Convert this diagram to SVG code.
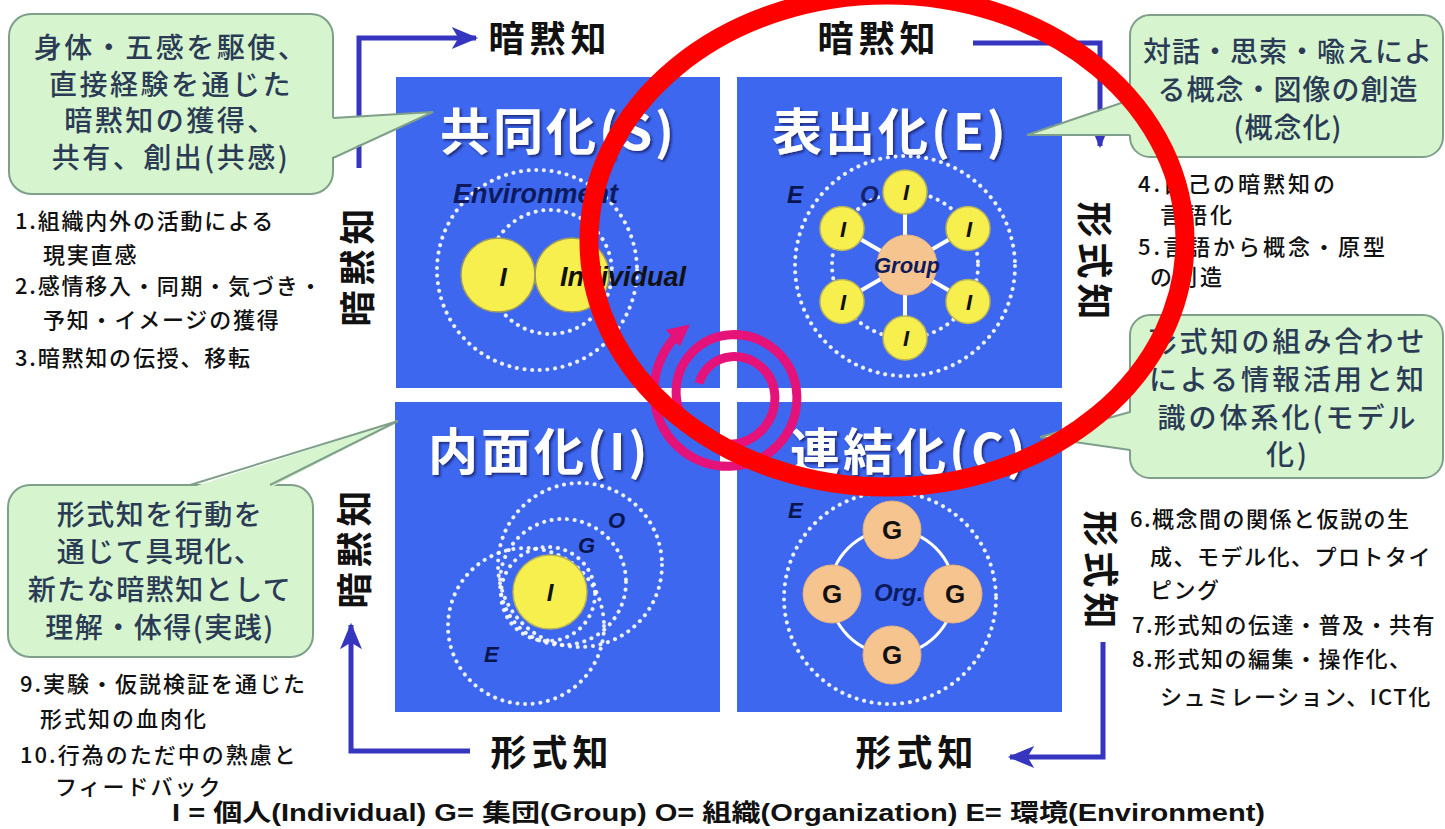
<svg xmlns="http://www.w3.org/2000/svg" width="1445" height="829" viewBox="0 0 1445 829">
<style>
.q{fill:#3c67ee}
.ttl{font-family:"Noto Sans CJK JP","Liberation Sans",sans-serif;font-weight:bold;font-size:50px;fill:#ffffff;letter-spacing:3px}
.dot{fill:none;stroke:#ffffff;stroke-width:4;stroke-dasharray:0.1 7.6;stroke-linecap:round;opacity:0.9}
.it{font-family:"Liberation Sans",Arial,sans-serif;font-style:italic;font-weight:bold}
.yel{fill:#f6ef4e;stroke:#b9b35a;stroke-width:1.5}
.pch{fill:#f6c48f;stroke:#e8b07a;stroke-width:1}
.lbl{font-family:"Noto Sans CJK JP",sans-serif;font-weight:bold;font-size:36px;fill:#111111;letter-spacing:5px}
.co{fill:#d6f5cf;stroke:#7f9f8a;stroke-width:2}
.cof{fill:#d6f5cf}
.col{fill:none;stroke:#7f9f8a;stroke-width:2}
.cot{font-family:"Noto Sans CJK JP",sans-serif;font-weight:500;font-size:28px;fill:#2b3b55;text-anchor:middle}
.lst{font-family:"Noto Sans CJK JP",sans-serif;font-weight:500;font-size:22px;fill:#111111}
.arr{fill:none;stroke:#3535c0;stroke-width:5}
</style>
<defs>
<marker id="ah" viewBox="0 0 12 10" markerWidth="30" markerHeight="22" refX="11" refY="5" orient="auto" markerUnits="userSpaceOnUse">
<path d="M0,0 L12,5 L0,10 L3,5 z" fill="#3535c0"/>
</marker>
<marker id="mh" viewBox="0 0 10 10" markerWidth="22" markerHeight="22" refX="6" refY="5" orient="auto" markerUnits="userSpaceOnUse">
<path d="M0,0 L10,5 L0,10 z" fill="#e5127a"/>
</marker>
<filter id="sh" x="-10%" y="-10%" width="120%" height="130%">
<feDropShadow dx="2" dy="2" stdDeviation="1" flood-color="#12206a" flood-opacity="0.8"/>
</filter>
</defs>
<rect width="1445" height="829" fill="#ffffff"/>

<g id="quad-S">
<rect class="q" x="396" y="77" width="324" height="311"/>
<text class="ttl" x="440" y="150" filter="url(#sh)">共同化(S)</text>
<circle class="dot" cx="537" cy="270" r="100"/>
<circle class="dot" cx="550" cy="272" r="62"/>
<circle cx="498" cy="275" r="37" fill="#f6ef4e"/>
<circle cx="572" cy="275" r="37" fill="#f6ef4e"/>
<circle cx="498" cy="275" r="37" fill="none" stroke="#9e9a60" stroke-width="1.5"/>
<circle cx="572" cy="275" r="37" fill="none" stroke="#9e9a60" stroke-width="1.5"/>
<text class="it" x="453" y="203" font-size="27" fill="#0d1b5e">Environment</text>
<text class="it" x="503" y="286" font-size="26" fill="#111" text-anchor="middle">I</text>
<text class="it" x="560" y="286" font-size="27" fill="#111">Individual</text>
</g>

<g id="quad-E">
<rect class="q" x="737" y="77" width="325" height="311"/>
<text class="ttl" x="772" y="150" filter="url(#sh)">表出化(E)</text>
<circle class="dot" cx="905" cy="266" r="110"/>
<circle class="dot" cx="905" cy="265" r="73"/>
<g stroke="#ffffff" stroke-width="4">
<line x1="905" y1="265" x2="905" y2="192"/>
<line x1="905" y1="265" x2="968" y2="228.5"/>
<line x1="905" y1="265" x2="968" y2="301.5"/>
<line x1="905" y1="265" x2="905" y2="338"/>
<line x1="905" y1="265" x2="842" y2="301.5"/>
<line x1="905" y1="265" x2="842" y2="228.5"/>
</g>
<circle class="pch" cx="907" cy="265" r="30"/>
<circle class="yel" cx="905" cy="192" r="22"/>
<circle class="yel" cx="968" cy="228.5" r="22"/>
<circle class="yel" cx="968" cy="301.5" r="22"/>
<circle class="yel" cx="905" cy="338" r="22"/>
<circle class="yel" cx="842" cy="301.5" r="22"/>
<circle class="yel" cx="842" cy="228.5" r="22"/>
<g class="it" font-size="22" fill="#111" text-anchor="middle">
<text x="906" y="200">I</text>
<text x="969" y="236.5">I</text>
<text x="969" y="309.5">I</text>
<text x="906" y="346">I</text>
<text x="843" y="309.5">I</text>
<text x="843" y="236.5">I</text>
</g>
<text class="it" x="907" y="273" font-size="22" fill="#0d1b5e" text-anchor="middle">Group</text>
<text class="it" x="787" y="203" font-size="24" fill="#0a1550">E</text>
<text class="it" x="860" y="203" font-size="24" fill="#14226a">O</text>
</g>

<g id="quad-I">
<rect class="q" x="395" y="402" width="325" height="310"/>
<text class="ttl" x="428" y="470" filter="url(#sh)">内面化(I)</text>
<circle class="dot" cx="526" cy="626" r="78"/>
<circle class="dot" cx="580" cy="565" r="82"/>
<circle class="dot" cx="563" cy="582" r="63"/>
<circle class="dot" cx="548" cy="594" r="47"/>
<circle class="yel" cx="550" cy="592" r="37"/>
<text class="it" x="550" y="601" font-size="24" fill="#111" text-anchor="middle">I</text>
<text class="it" x="608" y="528" font-size="22" fill="#0a1550">O</text>
<text class="it" x="578" y="553" font-size="22" fill="#0a1550">G</text>
<text class="it" x="484" y="662" font-size="22" fill="#0a1550">E</text>
</g>

<g id="quad-C">
<rect class="q" x="737" y="402" width="325" height="310"/>
<text class="ttl" x="790" y="470" filter="url(#sh)">連結化(C)</text>
<circle class="dot" cx="890" cy="598" r="106"/>
<circle cx="892" cy="592" r="62" fill="none" stroke="#ffffff" stroke-width="3"/>
<circle class="pch" cx="892" cy="530" r="29"/>
<circle class="pch" cx="832" cy="594" r="29"/>
<circle class="pch" cx="953" cy="594" r="29"/>
<circle class="pch" cx="892" cy="655" r="29"/>
<text class="it" x="874" y="601" font-size="24" fill="#0d1b5e">Org.</text>
<g font-family="Liberation Sans,Arial,sans-serif" font-weight="bold" font-size="26" fill="#111" text-anchor="middle">
<text x="892" y="539">G</text>
<text x="832" y="603">G</text>
<text x="955" y="603">G</text>
<text x="892" y="664">G</text>
</g>
<text class="it" x="788" y="518" font-size="22" fill="#0a1550">E</text>
</g>

<g id="spiral">
<path d="M 699.1,383.4 A 36 36 0 0 1 731,356.7 A 41 41 0 0 1 774.8,395 A 46.5 46.5 0 0 1 731,444.3 A 52 52 0 0 1 676.2,395 A 57.5 57.5 0 0 1 731,334.7 A 63 63 0 0 1 796.8,395 A 68.5 68.5 0 0 1 731,466.3 A 74 74 0 0 1 654.2,395 A 78.5 78.5 0 0 1 683,330" fill="none" stroke="#e5127a" stroke-width="9" marker-end="url(#mh)"/>
</g>

<g id="connectors">
<path class="arr" d="M 359,168 V 38 H 476" marker-end="url(#ah)"/>
<path class="arr" d="M 973,43 H 1100 V 146" marker-end="url(#ah)"/>
<path class="arr" d="M 1103,642 V 757 H 1010" marker-end="url(#ah)"/>
<path class="arr" d="M 470,751 H 351 V 625" marker-end="url(#ah)"/>
</g>

<g id="axis-labels">
<text class="lbl" x="550" y="52" text-anchor="middle">暗黙知</text>
<text class="lbl" x="879" y="52" text-anchor="middle">暗黙知</text>
<text class="lbl" x="552" y="766" text-anchor="middle">形式知</text>
<text class="lbl" x="917" y="766" text-anchor="middle">形式知</text>
<text class="lbl" transform="translate(355,265) rotate(-90)" text-anchor="middle" dominant-baseline="central">暗黙知</text>
<text class="lbl" transform="translate(352,547) rotate(-90)" text-anchor="middle" dominant-baseline="central">暗黙知</text>
<text class="lbl" transform="translate(1097,263) rotate(90)" text-anchor="middle" dominant-baseline="central">形式知</text>
<text class="lbl" transform="translate(1103,572) rotate(90)" text-anchor="middle" dominant-baseline="central">形式知</text>
</g>

<g id="callout-S">
<rect class="co" x="9" y="14" width="324" height="180" rx="22"/>
<polygon class="cof" points="330,118 433,112 330,158"/>
<polyline class="col" points="333,118 433,112 333,158"/>
<text class="cot" font-size="27" letter-spacing="2.5"><tspan x="171" y="58">身体・五感を駆使、</tspan><tspan x="171" y="94.5">直接経験を通じた</tspan><tspan x="171" y="131">暗黙知の獲得、</tspan><tspan x="171" y="167.5">共有、創出(共感)</tspan></text>
</g>

<g id="callout-E">
<rect class="co" x="1130" y="15" width="313" height="142" rx="20"/>
<polygon class="cof" points="1133,100 1027,135 1133,135"/>
<polyline class="col" points="1130,100 1027,135 1130,135"/>
<text class="cot" font-size="27" letter-spacing="1"><tspan x="1288" y="62">対話・思索・喩えによ</tspan><tspan x="1288" y="100">る概念・図像の創造</tspan><tspan x="1288" y="138">(概念化)</tspan></text>
</g>

<g id="callout-C">
<rect class="co" x="1130" y="315" width="313" height="163" rx="20"/>
<polygon class="cof" points="1133,412 1040,437 1133,450"/>
<polyline class="col" points="1130,412 1040,437 1130,450"/>
<text class="cot" letter-spacing="3"><tspan x="1288" y="352">形式知の組み合わせ</tspan><tspan x="1288" y="390">による情報活用と知</tspan><tspan x="1288" y="428">識の体系化(モデル</tspan><tspan x="1288" y="465">化)</tspan></text>
</g>

<g id="callout-I">
<rect class="co" x="8" y="485" width="305" height="172" rx="22"/>
<polygon class="cof" points="190,488 398,421 270,488"/>
<polyline class="col" points="190,485 398,421 270,485"/>
<text class="cot" letter-spacing="1.5"><tspan x="160" y="525">形式知を行動を</tspan><tspan x="160" y="562">通じて具現化、</tspan><tspan x="160" y="600">新たな暗黙知として</tspan><tspan x="160" y="638">理解・体得(実践)</tspan></text>
</g>

<g id="list-S">
<text class="lst" letter-spacing="1.8"><tspan x="15" y="229">1.組織内外の活動による</tspan><tspan x="43" y="263">現実直感</tspan><tspan x="15" y="294">2.感情移入・同期・気づき・</tspan><tspan x="43" y="328">予知・イメージの獲得</tspan><tspan x="15" y="366">3.暗黙知の伝授、移転</tspan></text>
</g>

<g id="list-E">
<text class="lst" letter-spacing="3"><tspan x="1138" y="192">4.自己の暗黙知の</tspan><tspan x="1160" y="223">言語化</tspan><tspan x="1138" y="255">5.言語から概念・原型</tspan><tspan x="1150" y="285">の創造</tspan></text>
</g>

<g id="list-C">
<text class="lst" letter-spacing="1.5"><tspan x="1130" y="527">6.概念間の関係と仮説の生</tspan><tspan x="1150" y="565">成、モデル化、プロトタイ</tspan><tspan x="1150" y="598">ピング</tspan><tspan x="1132" y="633">7.形式知の伝達・普及・共有</tspan><tspan x="1132" y="667">8.形式知の編集・操作化、</tspan><tspan x="1160" y="705">シュミレーション、ICT化</tspan></text>
</g>

<g id="list-I">
<text class="lst" letter-spacing="2"><tspan x="20" y="692">9.実験・仮説検証を通じた</tspan><tspan x="40" y="727">形式知の血肉化</tspan><tspan x="20" y="763">10.行為のただ中の熟慮と</tspan><tspan x="55" y="795">フィードバック</tspan></text>
</g>

<g id="legend">
<text x="172" y="821" font-family="Liberation Sans,Arial,Noto Sans CJK JP,sans-serif" font-size="24" font-weight="bold" fill="#111" textLength="1093" lengthAdjust="spacingAndGlyphs">I = 個人(Individual) G= 集団(Group) O= 組織(Organization) E= 環境(Environment)</text>
</g>

<g id="red-mark">
<ellipse cx="887" cy="241" rx="298" ry="246" fill="none" stroke="#ff0000" stroke-width="19"/>
</g>
</svg>
